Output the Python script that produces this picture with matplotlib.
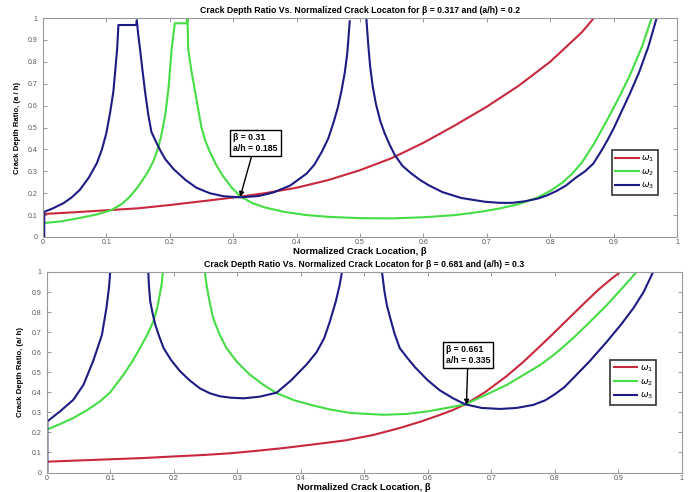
import numpy as np
import matplotlib
matplotlib.use("Agg")
import matplotlib.pyplot as plt
from matplotlib.lines import Line2D

nan = np.nan

# ---------------- data: top panel (beta = 0.317, a/h = 0.2) ----------------
top_beta_w1 = [0, 0.05, 0.1, 0.15, 0.2, 0.25, 0.3, 0.35, 0.4, 0.45, 0.5, 0.55, 0.6,
               0.65, 0.7, 0.75, 0.8, 0.85, 0.869]
top_ah_w1 = [0.105, 0.113, 0.122, 0.131, 0.146, 0.163, 0.18, 0.2, 0.225, 0.26, 0.305,
             0.36, 0.43, 0.51, 0.595, 0.69, 0.80, 0.935, 1.0]

top_beta_w2 = [0, 0.03, 0.058, 0.085, 0.108, 0.125, 0.137, 0.15, 0.164, 0.174, 0.182,
               0.187, 0.193, 0.198, 0.203, 0.206, 0.208, 0.227, 0.228,
               0.229, 0.234, 0.24, 0.245, 0.25, 0.256, 0.263, 0.273, 0.284, 0.297,
               0.311, 0.33, 0.35, 0.38, 0.416, 0.45, 0.5, 0.55, 0.6, 0.65, 0.69, 0.72,
               0.75, 0.78, 0.8, 0.82, 0.835, 0.85, 0.87, 0.89, 0.91, 0.926, 0.945, 0.96]
top_ah_w2 = [0.063, 0.072, 0.087, 0.103, 0.123, 0.152, 0.184, 0.23, 0.29, 0.345, 0.41,
             0.47, 0.56, 0.68, 0.86, 0.93, 0.976, 0.976, 1.0,
             0.86, 0.76, 0.664, 0.58, 0.50, 0.44, 0.39, 0.33, 0.278, 0.228,
             0.186, 0.155, 0.135, 0.115, 0.10, 0.092, 0.086, 0.085, 0.09, 0.10, 0.115, 0.13,
             0.15, 0.18, 0.21, 0.25, 0.29, 0.34, 0.43, 0.535, 0.645, 0.74, 0.87, 1.0]

top_beta_w3 = [0.002, 0.002, 0.015, 0.032, 0.045, 0.058, 0.072, 0.085, 0.093, 0.1,
               0.106, 0.111, 0.114, 0.117, 0.119, 0.147, 0.148,
               0.15, 0.153, 0.157, 0.161, 0.166, 0.171, 0.179, 0.186, 0.193, 0.206,
               0.225, 0.242, 0.263, 0.285, 0.311, 0.34, 0.363, 0.39, 0.416, 0.428,
               0.44, 0.45, 0.458, 0.465, 0.471, 0.476, 0.48, 0.484, nan,
               0.51, 0.513, 0.516, 0.52, 0.525, 0.532, 0.539, 0.547, 0.555, 0.567,
               0.581, 0.595, 0.608, 0.63, 0.66, 0.697, 0.72, 0.74, 0.76, 0.78, 0.795,
               0.81, 0.825, 0.84, 0.855, 0.868, 0.88, 0.89, 0.9, 0.91, 0.925, 0.94,
               0.955, 0.968]
top_ah_w3 = [0, 0.115, 0.13, 0.154, 0.18, 0.215, 0.27, 0.337, 0.40, 0.475,
             0.57, 0.664, 0.76, 0.86, 0.968, 0.968, 0.99,
             0.93, 0.86, 0.76, 0.664, 0.56, 0.48, 0.43, 0.39, 0.355, 0.31,
             0.26, 0.225, 0.2, 0.186, 0.181, 0.187, 0.203, 0.235, 0.29, 0.33,
             0.39, 0.45, 0.52, 0.59, 0.67, 0.75, 0.84, 0.99, nan,
             1.0, 0.88, 0.78, 0.69, 0.61, 0.53, 0.473, 0.42, 0.374, 0.325,
             0.29, 0.26, 0.237, 0.205, 0.178, 0.161, 0.156, 0.156, 0.163, 0.175, 0.19,
             0.21, 0.235, 0.27, 0.30, 0.335, 0.39, 0.44, 0.495, 0.557, 0.65, 0.75,
             0.87, 1.0]

# ---------------- data: bottom panel (beta = 0.681, a/h = 0.3) ----------------
bot_beta_w1 = [0, 0.05, 0.1, 0.15, 0.2, 0.25, 0.289, 0.33, 0.373, 0.42, 0.47, 0.514,
               0.556, 0.59, 0.619, 0.64, 0.659, 0.69, 0.724, 0.75, 0.777, 0.8, 0.829,
               0.85, 0.87, 0.887, 0.903]
bot_ah_w1 = [0.054, 0.06, 0.066, 0.072, 0.08, 0.088, 0.096, 0.108, 0.122, 0.14, 0.16,
             0.187, 0.222, 0.255, 0.287, 0.312, 0.34, 0.40, 0.48, 0.55, 0.63, 0.70,
             0.79, 0.855, 0.915, 0.96, 1.0]

bot_beta_w2 = [0, 0.02, 0.042, 0.063, 0.084, 0.1, 0.121, 0.135, 0.147, 0.158, 0.168,
               0.174, 0.178, 0.181, 0.183, nan,
               0.249, 0.252, 0.256, 0.262, 0.272, 0.283, 0.3, 0.32, 0.34, 0.362, 0.39,
               0.415, 0.445, 0.478, 0.53, 0.567, 0.6, 0.63, 0.659, 0.69, 0.724, 0.75,
               0.777, 0.8, 0.829, 0.855, 0.882, 0.905, 0.929]
bot_ah_w2 = [0.214, 0.24, 0.272, 0.31, 0.355, 0.40, 0.488, 0.555, 0.621, 0.685, 0.754,
             0.82, 0.887, 0.94, 1.0, nan,
             1.0, 0.93, 0.86, 0.77, 0.69, 0.621, 0.55, 0.488, 0.44, 0.396, 0.36,
             0.338, 0.315, 0.297, 0.288, 0.292, 0.305, 0.322, 0.34, 0.385, 0.436, 0.485,
             0.536, 0.59, 0.67, 0.75, 0.835, 0.915, 1.0]

bot_beta_w3 = [0.001, 0.001, 0.021, 0.042, 0.058, 0.073, 0.08, 0.087, 0.094, 0.098, 0.1, nan,
               0.16, 0.161, 0.163, 0.167, 0.171, 0.177, 0.184, 0.196, 0.21, 0.225, 0.241,
               0.257, 0.273, 0.29, 0.31, 0.335, 0.362, 0.385, 0.409, 0.425, 0.437,
               0.446, 0.455, 0.461, 0.465, nan,
               0.528, 0.532, 0.536, 0.541, 0.548, 0.556, 0.567, 0.58, 0.6, 0.619, 0.64,
               0.659, 0.685, 0.714, 0.74, 0.766, 0.785, 0.8, 0.815, 0.829, 0.855, 0.882,
               0.905, 0.924, 0.94, 0.955]
bot_ah_w3 = [0, 0.255, 0.305, 0.363, 0.438, 0.555, 0.62, 0.687, 0.82, 0.92, 1.0, nan,
             1.0, 0.93, 0.854, 0.79, 0.737, 0.68, 0.621, 0.56, 0.505, 0.46, 0.42,
             0.395, 0.38, 0.373, 0.37, 0.378, 0.398, 0.46, 0.538, 0.6, 0.67,
             0.754, 0.85, 0.93, 1.0, nan,
             1.0, 0.9, 0.83, 0.77, 0.69, 0.62, 0.575, 0.525, 0.46, 0.41, 0.37,
             0.34, 0.322, 0.317, 0.322, 0.337, 0.36, 0.39, 0.425, 0.47, 0.555, 0.652,
             0.74, 0.82, 0.9, 1.0]

series_labels = [r"$\omega_1$", r"$\omega_2$", r"$\omega_3$"]
ticks = [0, 0.1, 0.2, 0.3, 0.4, 0.5, 0.6, 0.7, 0.8, 0.9, 1]
tick_labels = ["0", "0.1", "0.2", "0.3", "0.4", "0.5", "0.6", "0.7", "0.8", "0.9", "1"]

titles = ["Crack Depth Ratio Vs. Normalized Crack Locaton for β = 0.317 and (a/h) = 0.2",
          "Crack Depth Ratio Vs. Normalized Crack Locaton for β = 0.681 and (a/h) = 0.3"]
ylabels = ["Crack Depth Ratio, (a / h)", "Crack Depth Ratio, (a/ h)"]
xlabel = "Normalized Crack Location, β"
annot_text = ["β = 0.31\na/h = 0.185", "β = 0.661\na/h = 0.335"]
annot_point = [(0.311, 0.183), (0.661, 0.338)]

# ---------------- style ----------------
plt.rcParams['font.family'] = ['Liberation Sans', 'DejaVu Sans']
plt.rcParams['mathtext.fontset'] = 'dejavusans'
colors = ["#c8283c", "#44dd44", "#1c1c84"]
lw = 1.5

fig = plt.figure(figsize=(6.9, 4.92), dpi=100)
ax1 = fig.add_axes([0.0623, 0.5183, 0.9188, 0.4451])
ax2 = fig.add_axes([0.0677, 0.0396, 0.9203, 0.4076])

panels = [
    (ax1, [(top_beta_w1, top_ah_w1), (top_beta_w2, top_ah_w2), (top_beta_w3, top_ah_w3)],
     (0.335, 0.43), (0.897, 0.397)),
    (ax2, [(bot_beta_w1, bot_ah_w1), (bot_beta_w2, bot_ah_w2), (bot_beta_w3, bot_ah_w3)],
     (0.6635, 0.586), (0.887, 0.561)),
]

for i, (ax, data, txtpos, legpos) in enumerate(panels):
    for (b, a), c in zip(data, colors):
        ax.plot(b, a, color=c, lw=lw, solid_joinstyle='round', solid_capstyle='butt')
    ax.set_xlim(0, 1)
    ax.set_ylim(0, 1)
    ax.set_xticks(ticks)
    ax.set_xticklabels(tick_labels)
    ax.set_yticks(ticks)
    ax.set_yticklabels(tick_labels)
    ax.tick_params(direction='in', length=3, width=0.6, colors='#888888',
                   labelcolor='#555555', labelsize=5, top=True, right=True)
    ax.tick_params(axis='x', pad=1.5)
    ax.tick_params(axis='y', pad=4)
    for s in ax.spines.values():
        s.set_color('#999999')
        s.set_linewidth(0.8)
    ax.set_title(titles[i], fontsize=6.3, fontweight='bold', pad=3.5)
    ax.set_xlabel(xlabel, fontsize=6.8, fontweight='bold', labelpad=1)
    ax.set_ylabel(ylabels[i], fontsize=5.6, fontweight='bold', labelpad=5)

    ax.annotate(annot_text[i], xy=annot_point[i], xytext=txtpos, textcoords='data',
                ha='center', va='center', multialignment='left',
                fontsize=6.3, fontweight='bold',
                bbox=dict(boxstyle='square,pad=0.35', fc='white', ec='black', lw=1.0),
                arrowprops=dict(arrowstyle='-|>', color='black', lw=1.0,
                                mutation_scale=7, shrinkA=0, shrinkB=0))

    handles = [Line2D([], [], color=c, lw=lw) for c in colors]
    leg = ax.legend(handles, series_labels, loc='upper left', bbox_to_anchor=legpos,
                    fontsize=6.5, frameon=True, fancybox=False, handlelength=2.6,
                    handletextpad=0.3, labelspacing=0.35, borderpad=0.4,
                    borderaxespad=0)
    leg.get_frame().set_edgecolor('black')
    leg.get_frame().set_linewidth(1.2)

fig.savefig("out.png", dpi=100)
